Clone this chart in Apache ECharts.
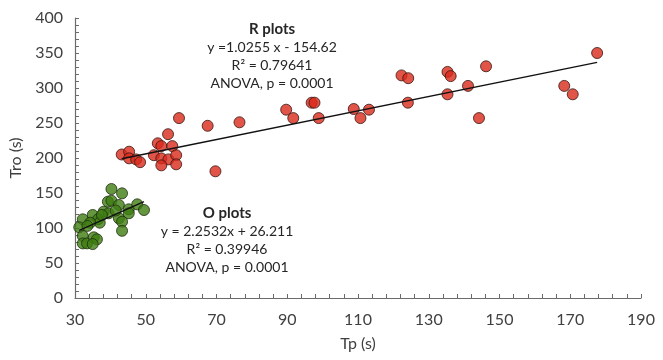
<!DOCTYPE html>
<html>
<head>
<meta charset="utf-8">
<script src="https://cdn.jsdelivr.net/npm/echarts@6/dist/echarts.min.js"></script>
<style>
  html, body { margin: 0; padding: 0; background: #fff; }
  #chart { width: 663px; height: 360px; }
</style>
</head>
<body>
<div id="chart"></div>
<script>
// O plots (green), [Tp, Tro]
const oPoints = [
  [40.3, 155.7], [43.3, 149.5], [39.3, 137.6], [40.3, 139], [42.4, 132.9],
  [45.2, 126.7], [47.6, 133.8], [49.5, 125.7], [45.2, 121], [38.1, 123.3],
  [39.5, 121], [42.4, 113.8], [43.3, 109], [43.3, 96], [35, 118.6],
  [36.5, 112.4], [37, 107.6], [32.2, 112.4], [34.3, 107.6], [31.2, 101],
  [32.2, 88.6], [32.2, 78], [33.4, 78], [35.3, 86.7], [36.2, 83.8],
  [35, 77], [37.6, 118.6], [41.5, 125], [33.5, 103]
];

// R plots (red)
const rPoints = [
  [43.2, 205], [45.3, 209], [45.3, 199.5], [47.3, 198], [48.4, 194],
  [56.3, 234], [53.4, 221], [54.4, 217], [57.5, 217], [52.3, 204],
  [54.4, 199.5], [56.4, 198], [58.6, 204], [54.4, 189.5], [58.6, 191],
  [69.7, 181], [59.4, 257], [67.5, 246], [76.5, 251], [89.7, 269],
  [91.7, 257], [96.9, 279], [97.7, 279], [98.9, 257], [108.8, 270],
  [113.1, 269], [110.7, 257], [122.3, 318], [124.2, 314], [124.1, 279],
  [135.3, 323], [136.2, 317], [135.3, 291], [141.1, 303], [146.2, 331],
  [144.2, 257], [168.3, 303], [170.7, 291], [177.6, 350]
];

// trend line coefficients (as drawn)
const oFit = { slope: 2.2532, intercept: 26.211 };
const rFit = { slope: 1.0255, intercept: 154.62 };

const rText = ['R plots', 'y =1.0255 x - 154.62', 'R² = 0.79641', 'ANOVA, p = 0.0001'];
const oText = ['O plots', 'y = 2.2532x + 26.211', 'R² = 0.39946', 'ANOVA, p = 0.0001'];

function fitLine(points, fit) {
  const xs = points.map(p => p[0]);
  const x0 = Math.min(...xs), x1 = Math.max(...xs);
  return [[x0, fit.slope * x0 + fit.intercept], [x1, fit.slope * x1 + fit.intercept]];
}

const font = 'Lato, "Open Sans", sans-serif';
const axisColor = '#6b6b6b';

// centred annotation lines, cy = centre of first line
function textBlock(lines, cx, cy) {
  return lines.map((t, i) => ({
    type: 'text',
    x: cx, y: cy + i * 18.3,
    style: {
      text: t,
      align: 'center',
      verticalAlign: 'middle',
      fill: '#262626',
      font: (i === 0 ? 'bold 15px ' : '14px ') + font
    }
  }));
}

const chart = echarts.init(document.getElementById('chart'));

chart.setOption({
  animation: false,
  grid: { left: 75, right: 22, top: 18, bottom: 62 },
  xAxis: {
    type: 'value',
    min: 30, max: 190, interval: 20,
    name: 'Tp (s)', nameLocation: 'middle', nameGap: 38,
    nameTextStyle: { fontFamily: font, fontSize: 16, color: '#404040' },
    axisLine: { lineStyle: { color: axisColor, width: 1.2 } },
    axisTick: { inside: true, length: 4, lineStyle: { color: axisColor } },
    minorTick: { show: true, splitNumber: 5, length: 4, lineStyle: { color: axisColor } },
    axisLabel: { fontFamily: font, fontSize: 16, color: '#404040', margin: 14 },
    splitLine: { show: false }
  },
  yAxis: {
    type: 'value',
    min: 0, max: 400, interval: 50,
    name: 'Tro (s)', nameLocation: 'middle', nameGap: 47, nameRotate: 90,
    nameTextStyle: { fontFamily: font, fontSize: 16, color: '#404040' },
    axisLine: { show: true, lineStyle: { color: axisColor, width: 1.2 } },
    axisTick: { show: true, inside: true, length: 4, lineStyle: { color: axisColor } },
    minorTick: { show: true, splitNumber: 5, length: 4, lineStyle: { color: axisColor } },
    axisLabel: { fontFamily: font, fontSize: 16, color: '#404040', margin: 12 },
    splitLine: { show: false }
  },
  series: [
    {
      name: 'O plots', type: 'scatter', data: oPoints,
      symbol: 'circle', symbolSize: 11,
      itemStyle: { color: '#3f7d12', borderColor: '#1f2e10', borderWidth: 1 }
    },
    {
      name: 'R plots', type: 'scatter', data: rPoints,
      symbol: 'circle', symbolSize: 11,
      itemStyle: { color: '#d92a1c', borderColor: '#3a1510', borderWidth: 1 }
    },
    {
      type: 'line', data: fitLine(oPoints, oFit), symbol: 'none', z: 5,
      lineStyle: { color: '#111', width: 1.3 }
    },
    {
      type: 'line', data: fitLine(rPoints, rFit), symbol: 'none', z: 5,
      lineStyle: { color: '#111', width: 1.3 }
    }
  ],
  graphic: [
    ...textBlock(rText, 272, 29),
    ...textBlock(oText, 227, 213)
  ]
});
</script>
</body>
</html>
